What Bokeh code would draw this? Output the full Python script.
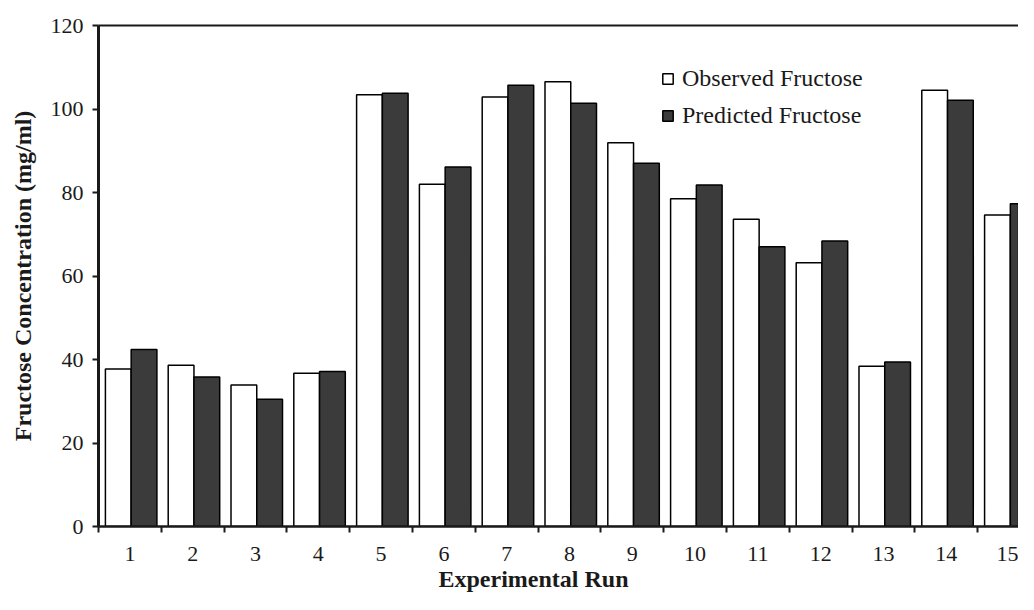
from bokeh.plotting import figure
from bokeh.models import (ColumnDataSource, FixedTicker, Legend, LegendItem,
                          LinearAxis, Range1d, Title)
from bokeh.transform import dodge
from bokeh.embed import file_html
from bokeh.resources import INLINE

# ---- data ----
runs = [1, 2, 3, 4, 5, 6, 7, 8, 9, 10, 11, 12, 13, 14, 15]
observed = [37.7, 38.6, 33.9, 36.7, 103.4, 82.0, 102.9, 106.5, 91.9, 78.5,
            73.6, 63.2, 38.4, 104.5, 74.6]
predicted = [42.4, 35.8, 30.5, 37.1, 103.8, 86.1, 105.7, 101.4, 87.0, 81.8,
             67.0, 68.4, 39.4, 102.1, 77.3]
y_ticks = [0, 20, 40, 60, 80, 100, 120]
series_names = ["Observed Fructose", "Predicted Fructose"]
x_title = "Experimental Run"
y_title = "Fructose Concentration (mg/ml)"

boundaries = [r - 0.5 for r in runs] + [runs[-1] + 0.5]

SERIF = "Liberation Serif"
INK = "#1a1a1a"
DARK = "#3b3b3b"

source = ColumnDataSource(dict(run=runs, observed=observed, predicted=predicted))

p = figure(width=1018, height=594, output_backend="svg", toolbar_location=None,
           x_range=Range1d(0.5, 15.15), y_range=Range1d(0, 120),
           min_border_left=98, min_border_right=0, min_border_top=25,
           min_border_bottom=68)
p.xgrid.visible = False
p.ygrid.visible = False
p.outline_line_color = None
p.background_fill_color = "white"
p.border_fill_color = "white"

r_obs = p.vbar(x=dodge("run", -0.185, range=p.x_range), top="observed", width=0.41,
               source=source, fill_color="white", line_color="black", line_width=1.5)
r_pred = p.vbar(x=dodge("run", 0.225, range=p.x_range), top="predicted", width=0.41,
                source=source, fill_color=DARK, line_color="black", line_width=1.5)

# x axis: labels at run centres, tick marks between runs
xa = p.xaxis[0]
xa.ticker = FixedTicker(ticks=runs, minor_ticks=boundaries)
xa.major_tick_out = 0
xa.major_tick_in = 0
xa.minor_tick_out = 6
xa.minor_tick_in = 0
xa.minor_tick_line_width = 2
xa.minor_tick_line_color = INK
xa.axis_line_width = 2.5
xa.axis_line_color = INK
xa.major_label_text_font = SERIF
xa.major_label_text_font_size = "22px"
xa.major_label_text_color = INK
xa.major_label_standoff = 14

# y axis
ya = p.yaxis[0]
ya.ticker = FixedTicker(ticks=y_ticks)
ya.major_tick_out = 6
ya.major_tick_in = 0
ya.minor_tick_out = 0
ya.minor_tick_in = 0
ya.major_tick_line_width = 2
ya.major_tick_line_color = INK
ya.axis_line_width = 3
ya.axis_line_color = INK
ya.major_label_text_font = SERIF
ya.major_label_text_font_size = "22px"
ya.major_label_text_color = INK
ya.major_label_standoff = 9
ya.axis_label = y_title
ya.axis_label_text_font = SERIF
ya.axis_label_text_font_size = "24px"
ya.axis_label_text_font_style = "bold"
ya.axis_label_text_color = INK
ya.axis_label_standoff = 12

# top border line
top_axis = LinearAxis(ticker=FixedTicker(ticks=[]), major_label_text_font_size="0px",
                      major_tick_out=0, major_tick_in=0, minor_tick_out=0, minor_tick_in=0,
                      axis_line_width=2, axis_line_color=INK)
p.add_layout(top_axis, "above")

# x axis title, placed left of frame centre as in the reference
p.add_layout(Title(text=x_title, align="left", offset=340, standoff=0,
                   text_font=SERIF, text_font_size="24px", text_font_style="bold",
                   text_color=INK), "below")

legend = Legend(items=[LegendItem(label=series_names[0], renderers=[r_obs]),
                       LegendItem(label=series_names[1], renderers=[r_pred])],
                location=(563, 396), glyph_width=13, glyph_height=13,
                label_text_font=SERIF, label_text_font_size="24px",
                label_text_color=INK, label_height=30, spacing=7, padding=0,
                margin=0, border_line_color=None, background_fill_alpha=0,
                label_standoff=8)
p.add_layout(legend)

open("out.html", "w").write(file_html(p, INLINE))
